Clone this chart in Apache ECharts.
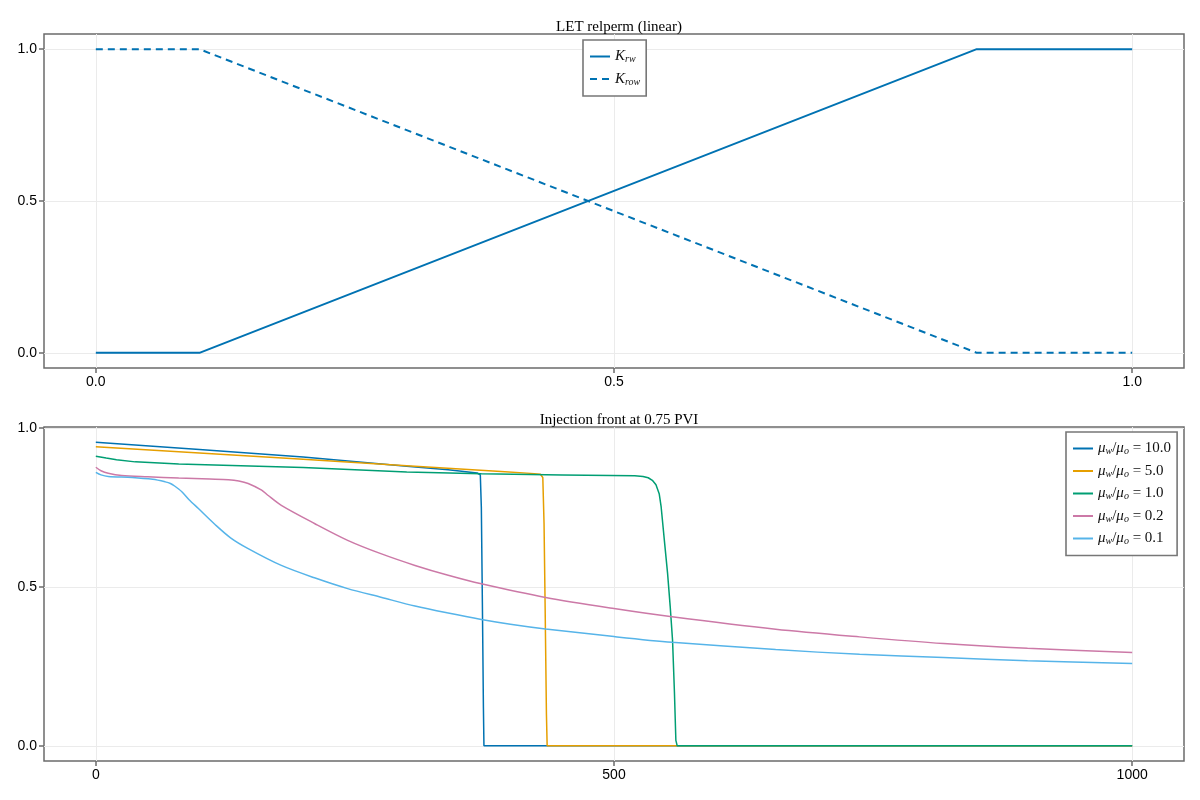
<!DOCTYPE html>
<html>
<head>
<meta charset="utf-8">
<title>LET relperm / Injection front</title>
<script src="https://cdn.jsdelivr.net/npm/echarts@6/dist/echarts.min.js"></script>
<style>
html, body { margin: 0; padding: 0; background: #fff; }
#main { width: 1200px; height: 800px; }
</style>
</head>
<body>
<div id="main"></div>
<script>
// top panel: relperm curves vs saturation
var krw = [[0, 0], [0.1, 0], [0.85, 1], [1, 1]];
var krow = [[0, 1], [0.1, 1], [0.85, 0], [1, 0]];

// bottom panel: saturation profile per viscosity ratio (cell index, Sw)
var mu10 = [[0, 0.956], [100, 0.933], [200, 0.909], [300, 0.880], [340, 0.869], [368, 0.859], [371, 0.853],
    [372, 0.75], [373, 0.45], [374, 0.12], [374.5, 0], [1000, 0]];
var mu5 = [[0, 0.942], [100, 0.922], [200, 0.902], [300, 0.882], [391, 0.864], [423, 0.857], [429, 0.855],
    [431.3, 0.845], [432.5, 0.7], [433.5, 0.45], [434.8, 0.1], [435.5, 0], [1000, 0]];
var mu1 = [[0, 0.912], [10, 0.906], [20, 0.901], [38, 0.894], [80, 0.887], [200, 0.876], [300, 0.862],
    [372, 0.857], [450, 0.853], [520, 0.850], [528, 0.848], [533, 0.844], [537, 0.836], [540.5, 0.822],
    [543.6, 0.794], [545.5, 0.752], [548.5, 0.65], [551.7, 0.543], [554.2, 0.44], [556.5, 0.332],
    [558.3, 0.17], [559.7, 0.017], [561, 0], [1000, 0]];
var mu02 = [[0, 0.877], [5, 0.866], [12, 0.858], [25, 0.851], [50, 0.847], [80, 0.843], [110, 0.840], [128, 0.838],
    [138, 0.834], [147, 0.826], [160, 0.805], [166, 0.789], [179, 0.757], [211, 0.700], [243, 0.647], [275, 0.605],
    [308, 0.568], [340, 0.537], [372, 0.510], [434, 0.467], [500, 0.432], [556, 0.406], [656, 0.367],
    [737, 0.343], [818, 0.322], [899, 0.307], [1000, 0.294]];
var mu01 = [[0, 0.861], [5, 0.853], [12, 0.848], [35, 0.845], [55, 0.839], [67, 0.831], [72, 0.826], [76, 0.818],
    [83, 0.800], [90, 0.775], [99, 0.747], [115, 0.697], [130, 0.655], [147, 0.621], [179, 0.568], [211, 0.529],
    [243, 0.495], [276, 0.467], [308, 0.440], [340, 0.418], [372, 0.398], [400, 0.383], [434, 0.368], [500, 0.344],
    [556, 0.326], [656, 0.303], [737, 0.288], [818, 0.278], [899, 0.268], [1000, 0.259]];

// tick labels
var relpermTicks = [0, 0.5, 1];
var cellTicks = [0, 500, 1000];
var satTicks = [0, 0.5, 1];

var spine = '#6b6b6b';
var gridCol = '#ebebeb';
var sansFont = 'Liberation Sans';
var serifFont = 'Liberation Serif';

// legend text as math-ish rich text
var legendRich = {
    it: { fontFamily: serifFont, fontStyle: 'italic', fontSize: 15, color: '#111', lineHeight: 16 },
    sub: { fontFamily: serifFont, fontStyle: 'italic', fontSize: 10, color: '#111', lineHeight: 16, verticalAlign: 'bottom' },
    rm: { fontFamily: serifFont, fontSize: 15, color: '#111', lineHeight: 16 }
};
var legendLabels = {
    'Krw': '{it|K}{sub|rw}',
    'Krow': '{it|K}{sub|row}',
    'mu10': '{it|μ}{sub|w}{rm|/}{it|μ}{sub|o}{rm| = 10.0}',
    'mu5': '{it|μ}{sub|w}{rm|/}{it|μ}{sub|o}{rm| = 5.0}',
    'mu1': '{it|μ}{sub|w}{rm|/}{it|μ}{sub|o}{rm| = 1.0}',
    'mu02': '{it|μ}{sub|w}{rm|/}{it|μ}{sub|o}{rm| = 0.2}',
    'mu01': '{it|μ}{sub|w}{rm|/}{it|μ}{sub|o}{rm| = 0.1}'
};

function makeAxis(idx, min, max, ticks, digits) {
    return {
        gridIndex: idx,
        type: 'value',
        min: min,
        max: max,
        axisLine: { show: false, onZero: false },
        axisTick: { show: true, inside: false, length: 5, customValues: ticks, lineStyle: { color: spine, width: 1.5 } },
        axisLabel: {
            customValues: ticks,
            color: '#000',
            fontFamily: sansFont,
            fontSize: 14,
            margin: 7,
            formatter: function (v) { return v.toFixed(digits); }
        },
        splitLine: { show: true, lineStyle: { color: gridCol, width: 1 } }
    };
}

function legendBox(left, top, names) {
    return {
        data: names,
        orient: 'vertical',
        left: left,
        top: top,
        padding: [9, 6, 9, 6],
        itemGap: 7,
        itemWidth: 20,
        itemHeight: 12,
        borderColor: '#777',
        borderWidth: 1.6,
        backgroundColor: '#fff',
        borderRadius: 0,
        itemStyle: { opacity: 0 },
        formatter: function (name) { return legendLabels[name]; },
        textStyle: { rich: legendRich }
    };
}

function curve(name, data, color, width, xi, dash, smooth) {
    return {
        name: name,
        type: 'line',
        xAxisIndex: xi,
        yAxisIndex: xi,
        data: data,
        symbol: 'none',
        smooth: smooth || false,
        color: color,
        lineStyle: { color: color, width: width, type: dash || 'solid' }
    };
}

var chart = echarts.init(document.getElementById('main'));

var option = {
    animation: false,
    backgroundColor: '#fff',
    title: [
        { text: 'LET relperm (linear)', left: 614, top: 15, textAlign: 'center',
          textStyle: { fontFamily: serifFont, fontSize: 15, fontWeight: 'normal', color: '#000' } },
        { text: 'Injection front at 0.75 PVI', left: 614, top: 408, textAlign: 'center',
          textStyle: { fontFamily: serifFont, fontSize: 15, fontWeight: 'normal', color: '#000' } }
    ],
    grid: [
        { left: 44, right: 16, top: 34, height: 334, show: true, borderColor: spine, borderWidth: 1.5 },
        { left: 44, right: 16, top: 427, height: 334, show: true, borderColor: spine, borderWidth: 1.5 }
    ],
    xAxis: [
        makeAxis(0, -0.05, 1.05, relpermTicks, 1),
        makeAxis(1, -50, 1050, cellTicks, 0)
    ],
    yAxis: [
        makeAxis(0, -0.05, 1.05, satTicks, 1),
        makeAxis(1, -0.0478, 1.0038, satTicks, 1)
    ],
    legend: [
        legendBox(583, 40, ['Krw', 'Krow']),
        legendBox(1066, 432, ['mu10', 'mu5', 'mu1', 'mu02', 'mu01'])
    ],
    series: [
        curve('Krw', krw, '#0072B2', 2, 0),
        curve('Krow', krow, '#0072B2', 2, 0, [7, 5]),
        curve('mu10', mu10, '#0072B2', 1.5, 1),
        curve('mu5', mu5, '#E69F00', 1.5, 1),
        curve('mu1', mu1, '#009E73', 1.5, 1),
        curve('mu02', mu02, '#CC79A7', 1.5, 1, null, 0.3),
        curve('mu01', mu01, '#56B4E9', 1.5, 1, null, 0.3)
    ]
};

chart.setOption(option);
</script>
</body>
</html>
